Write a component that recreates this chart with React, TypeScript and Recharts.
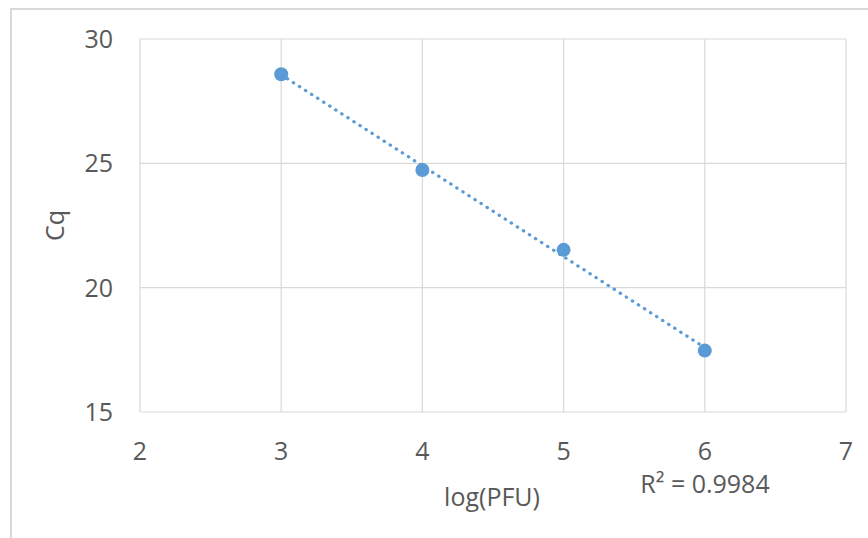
import {
  ScatterChart,
  Scatter,
  XAxis,
  YAxis,
  CartesianGrid,
} from "recharts";

const logPfu = [3, 4, 5, 6];
const cqValues = [28.58, 24.73, 21.52, 17.47];

// dotted linear trendline, end points
const trendX = [3, 6];
const trendY = [28.56, 17.59];

const xTicks = [2, 3, 4, 5, 6, 7];
const yTicks = [15, 20, 25, 30];
const rSquaredText = "R² = 0.9984";

const TEXT = "#595959";
const GRID = "#d9d9d9";
const BLUE = "#5b9bd5";
const FONT = "'Open Sans', sans-serif";

const points = logPfu.map((x, i) => ({ x, y: cqValues[i] }));
const trend = trendX.map((x, i) => ({ x, y: trendY[i] }));

const XTitle = (props: any) => {
  const { x, y, width } = props.viewBox;
  return (
    <g>
      <text
        x={x + width / 2 - 1}
        y={y + 94}
        textAnchor="middle"
        fill={TEXT}
        fontSize={25}
        fontFamily={FONT}
      >
        log(PFU)
      </text>
      <text
        x={x + 565}
        y={y + 81}
        textAnchor="middle"
        fill={TEXT}
        fontSize={25}
        fontFamily={FONT}
      >
        {rSquaredText}
      </text>
    </g>
  );
};

const YTitle = (props: any) => {
  const { y, height } = props.viewBox;
  const cx = 64;
  const cy = y + height / 2;
  return (
    <text
      x={cx}
      y={cy}
      textAnchor="middle"
      fill={TEXT}
      fontSize={25}
      fontFamily={FONT}
      transform={`rotate(-90 ${cx} ${cy})`}
    >
      Cq
    </text>
  );
};

const App = () => {
  return (
    <div
      style={{
        position: "absolute",
        left: 0,
        top: 0,
        width: 868,
        height: 538,
        background: "#fff",
        overflow: "hidden",
      }}
    >
      <div
        style={{
          position: "absolute",
          left: 10,
          top: 8,
          width: 900,
          height: 600,
          border: `2px solid ${GRID}`,
        }}
      />
      <div style={{ position: "absolute", left: 0, top: 0 }}>
        <ScatterChart
          width={868}
          height={538}
          margin={{ top: 39, right: 22, left: 0, bottom: 26 }}
          style={{ fontFamily: FONT }}
        >
          <CartesianGrid stroke={GRID} strokeWidth={1.2} />
          <XAxis
            type="number"
            dataKey="x"
            domain={[2, 7]}
            ticks={xTicks}
            height={100}
            axisLine={false}
            tickLine={false}
            tickSize={0}
            tickMargin={30}
            tick={{ fill: TEXT, fontSize: 25, fontFamily: FONT }}
            label={<XTitle />}
          />
          <YAxis
            type="number"
            dataKey="y"
            domain={[15, 30]}
            ticks={yTicks}
            width={140}
            axisLine={false}
            tickLine={false}
            tickSize={0}
            tickMargin={27}
            tick={{ fill: TEXT, fontSize: 25, fontFamily: FONT }}
            label={<YTitle />}
          />
          <Scatter
            data={trend}
            line={{
              stroke: BLUE,
              strokeWidth: 3.2,
              strokeDasharray: "0.4 6.8",
              strokeLinecap: "round",
            }}
            shape={() => <g />}
            isAnimationActive={false}
          />
          <Scatter
            data={points}
            fill={BLUE}
            shape={(p: any) => <circle cx={p.cx} cy={p.cy} r={7} fill={BLUE} />}
            isAnimationActive={false}
          />
        </ScatterChart>
      </div>
    </div>
  );
};

export default App;
